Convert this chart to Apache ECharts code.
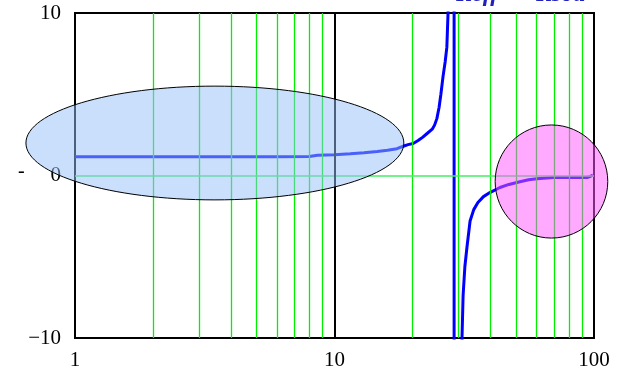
<!DOCTYPE html>
<html>
<head>
<meta charset="utf-8">
<script src="https://cdn.jsdelivr.net/npm/echarts@6/dist/echarts.min.js"></script>
<style>
  html, body { margin: 0; padding: 0; background: #fff; }
  #chart { width: 625px; height: 372px; }
</style>
</head>
<body>
<div id="chart"></div>
<script>
// Frequency axis (log) and response curve around the resonance
const freq = [1, 2, 4, 6, 8.0, 8.6, 10, 11.5, 13, 14.6, 16, 17.4, 18.4, 19.2, 20.1, 21.0, 21.9, 22.8, 23.8,
  24.3, 24.8, 25.3, 25.7, 26.2, 26.7, 27.1, 27.4, 27.6, 28.9,
  28.9, 30.7, 31.0, 31.3, 31.8, 32.4, 33.3, 34.4, 35.7, 37.5, 39.7, 43.4, 47, 51.8, 56, 60.3, 69.5, 80, 94, 97, 99];
const response = [1.15, 1.15, 1.15, 1.16, 1.17, 1.25, 1.28, 1.34, 1.40, 1.48, 1.56, 1.65, 1.80, 1.90, 1.97, 2.15, 2.36, 2.60, 2.85,
  3.1, 3.5, 4.2, 5.0, 6.1, 7.0, 7.9, 10.1, 12, 30,
  -30, -13, -10, -7.4, -5.6, -4.4, -2.8, -2.1, -1.66, -1.3, -1.05, -0.74, -0.55, -0.38, -0.26, -0.2, -0.13, -0.12, -0.12, -0.05, 0.03];

// Minor decade grid lines
const minorGrid = [2, 3, 4, 5, 6, 7, 8, 9, 20, 30, 40, 50, 60, 70, 80, 90];
const decadeLine = [10];
const yTicks = [-10, 0, 10];

// Highlighted regions: [xMin, xMax, yMin, yMax] in data units
const lowBand = [0.647, 18.5, -1.5, 5.5];
const highBand = [41.6, 113, -3.85, 3.11];

const serif = '"Liberation Serif", "DejaVu Serif", serif';
const chart = echarts.init(document.getElementById('chart'));

chart.setOption({
  animation: false,
  grid: { left: 75, right: 31, top: 13, bottom: 34, show: true, borderColor: '#000', borderWidth: 2, backgroundColor: 'transparent' },
  xAxis: {
    type: 'log', logBase: 10, min: 1, max: 100,
    axisLine: { onZero: false, lineStyle: { color: '#000', width: 2 } },
    axisTick: { show: false },
    splitLine: { show: false },
    axisLabel: { color: '#000', fontFamily: serif, fontSize: 21, margin: 12 }
  },
  yAxis: {
    type: 'value', min: yTicks[0], max: yTicks[2], interval: 10,
    axisLine: { show: true, onZero: false, lineStyle: { color: '#000', width: 2 } },
    axisTick: { show: false },
    splitLine: { show: false },
    axisLabel: {
      color: '#000', fontFamily: serif, fontSize: 21, margin: 14,
      formatter: v => (v < 0 ? '\u2212' + Math.abs(v) : String(v))
    }
  },
  series: [
    {
      type: 'line', data: [], z: 1, silent: true,
      markLine: {
        silent: true, symbol: 'none', label: { show: false }, animation: false,
        lineStyle: { type: 'solid', color: '#00f000', width: 1.3 },
        data: minorGrid.map(v => ({ xAxis: v })).concat([{ yAxis: 0, lineStyle: { color: '#44ee66', width: 1.5 } }])
          .concat(decadeLine.map(v => ({ xAxis: v, lineStyle: { color: '#000', width: 2 } })))
      }
    },
    {
      type: 'line', z: 3,
      data: freq.map((f, i) => [f, response[i]]),
      showSymbol: false, symbol: 'none', smooth: false, clip: true,
      lineStyle: { color: '#0000ff', width: 3 }
    }
  ]
});

function drawOverlays() {
  const box = b => {
    const p1 = chart.convertToPixel({ gridIndex: 0 }, [b[0], b[3]]);
    const p2 = chart.convertToPixel({ gridIndex: 0 }, [b[1], b[2]]);
    return { cx: (p1[0] + p2[0]) / 2, cy: (p1[1] + p2[1]) / 2, rx: Math.abs(p2[0] - p1[0]) / 2, ry: Math.abs(p2[1] - p1[1]) / 2 };
  };
  const a = box(lowBand);
  const c = box(highBand);
  chart.setOption({
    graphic: [
      {
        type: 'ellipse', z: 100, silent: true,
        shape: { cx: a.cx, cy: a.cy, rx: a.rx, ry: a.ry },
        style: { fill: 'rgba(148,192,248,0.5)', stroke: '#000', lineWidth: 1 }
      },
      {
        type: 'ellipse', z: 100, silent: true,
        shape: { cx: c.cx, cy: c.cy, rx: c.rx, ry: c.ry },
        style: { fill: 'rgba(255,85,255,0.5)', stroke: '#000', lineWidth: 1 }
      },
      {
        type: 'text', z: 100, silent: true, left: 18, top: 162,
        style: { text: '-', fill: '#000', font: '20px ' + serif }
      },
      {
        type: 'text', z: 100, silent: true, left: 456, top: -17,
        style: { text: 'Reff  =  Rsoa', fill: '#2222bb', font: 'italic bold 24px ' + serif }
      }
    ]
  });
}
drawOverlays();
</script>
</body>
</html>
